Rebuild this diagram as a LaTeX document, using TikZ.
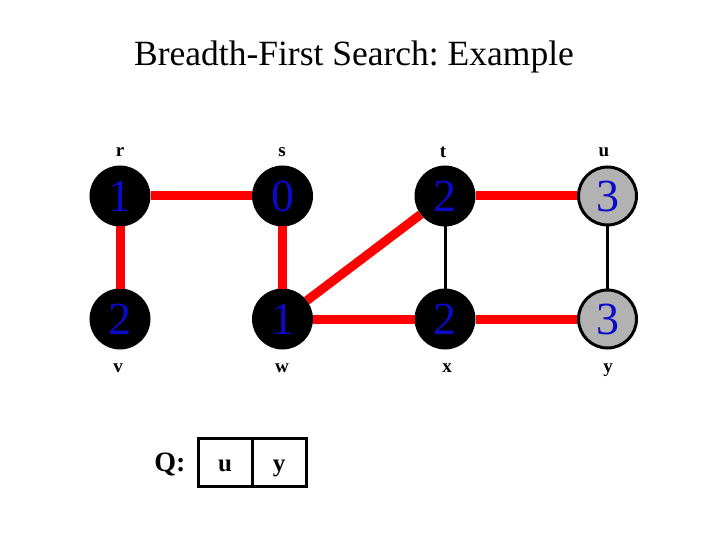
\documentclass[tikz,border=0pt]{standalone}
\usepackage{fontspec}
\setmainfont{Liberation Serif}
\usetikzlibrary{calc}
\definecolor{numblue}{RGB}{10,10,200}
\definecolor{visitgray}{RGB}{178,178,178}
\frenchspacing

\begin{document}
\begin{tikzpicture}[x=1pt, y=-1pt, node distance=162.5pt,
  vertex/.style={circle, draw=black, line width=3pt, fill=black, minimum size=58pt, inner sep=0pt,
    text=numblue, font=\fontsize{46}{46}\selectfont},
  grayvertex/.style={vertex, fill=visitgray},
  lab/.style={font=\fontsize{19}{19}\selectfont\bfseries},
  treeedge/.style={draw=red, line width=9pt},
  plainedge/.style={draw=black, line width=3pt},
  qcell/.style={draw, line width=3pt, minimum width=54pt, minimum height=48pt, inner sep=0pt,
    text height=18pt, text depth=0pt, font=\fontsize{25}{25}\selectfont\bfseries}]

  \useasboundingbox (0,0) rectangle (720,540);

  % Title
  \node (title) at (354,57) {\fontsize{35.5}{35.5}\selectfont Breadth-First Search: Example};

  % Top row
  \node[vertex] (r) at (120,196) {1};
  \node[vertex, right of=r] (s) {0};
  \node[vertex, right of=s] (t) {2};
  \node[grayvertex, right of=t] (u) {3};

  % Bottom row
  \node[vertex, below of=r, node distance=123pt] (v) {2};
  \node[vertex, right of=v] (w) {1};
  \node[vertex, right of=w] (x) {2};
  \node[grayvertex, right of=x] (y) {3};

  % Labels
  \node[lab] at (120,152) {r};
  \node[lab] at (282,152) {s};
  \node[lab] at (443,152) {t};
  \node[lab] at (604,152) {u};
  \node[lab] at (118,368) {v};
  \node[lab] at (282,368) {w};
  \node[lab] at (447,368) {x};
  \node[lab] at (608,370) {y};

  % Edges
  \draw[plainedge] (t) -- (x);
  \draw[plainedge] (u) -- (y);
  \draw[treeedge] (r) -- (s);
  \draw[treeedge] (r) -- (v);
  \draw[treeedge] (s) -- (w);
  \draw[treeedge] (w) -- (t);
  \draw[treeedge] (t) -- (u);
  \draw[treeedge] (w) -- (x);
  \draw[treeedge] (x) -- (y);

  % Queue
  \node[font=\fontsize{28}{28}\selectfont\bfseries] (Q) at (170,464) {Q:};
  \node[qcell] (q1) at (225,462) {u};
  \node[qcell, right of=q1, node distance=54pt] (q2) {y};

\end{tikzpicture}
\end{document}
